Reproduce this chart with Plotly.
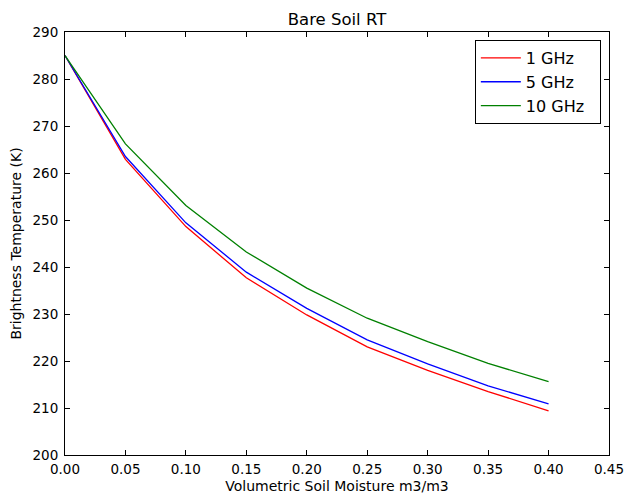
import plotly.graph_objects as go

moisture = [0.0, 0.05, 0.10, 0.15, 0.20, 0.25, 0.30, 0.35, 0.40]
tb_1ghz = [285.0, 262.9, 248.6, 237.7, 229.8, 223.0, 218.0, 213.5, 209.4]
tb_5ghz = [285.0, 263.5, 249.4, 238.9, 231.2, 224.5, 219.4, 214.7, 210.9]
tb_10ghz = [285.0, 266.2, 253.1, 243.2, 235.5, 229.1, 224.1, 219.5, 215.6]
series_names = ["1 GHz", "5 GHz", "10 GHz"]
series_colors = ["#ff0000", "#0000ff", "#008000"]
x_ticks = [0.0, 0.05, 0.10, 0.15, 0.20, 0.25, 0.30, 0.35, 0.40, 0.45]
y_ticks = [200, 210, 220, 230, 240, 250, 260, 270, 280, 290]

font = "DejaVu Sans"
W, H = 624, 496
fig = go.Figure()
for name, ys, c in zip(series_names, [tb_1ghz, tb_5ghz, tb_10ghz], series_colors):
    fig.add_trace(go.Scatter(x=moisture, y=ys, mode="lines", name=name + "  ",
                             line=dict(color=c, width=1.3)))

axis_common = dict(showgrid=False, zeroline=False, showline=True, linecolor="black",
                   linewidth=1, mirror="ticks", ticks="inside", ticklen=5,
                   tickcolor="black", automargin=False,
                   tickfont=dict(family=font, size=13.5, color="black"))
fig.update_xaxes(range=[0, 0.45], tickvals=x_ticks,
                 ticktext=[f"{v:.2f}" for v in x_ticks],
                 ticklabelstandoff=2, ticklabeloverflow="allow",
                 title=dict(text="Volumetric Soil Moisture m3/m3",
                            font=dict(family=font, size=14, color="black"), standoff=4),
                 **axis_common)
fig.update_yaxes(range=[200, 290], tickvals=y_ticks,
                 ticklabelstandoff=3,
                 title=dict(text="Brightness Temperature (K)",
                            font=dict(family=font, size=14, color="black"), standoff=7),
                 **axis_common)
fig.update_layout(
    width=W, height=H,
    margin=dict(l=65, r=15, t=32, b=41),
    paper_bgcolor="white", plot_bgcolor="white",
    title=dict(text="Bare Soil RT", x=0.5, xref="paper", xanchor="center",
               yref="container", y=1 - 19.5 / H, yanchor="middle",
               font=dict(family=font, size=16.5, color="black")),
    legend=dict(x=0.985, y=0.981, xanchor="right", yanchor="top",
                bordercolor="black", borderwidth=1, bgcolor="white",
                font=dict(family=font, size=16, color="black"),
                itemwidth=40, tracegroupgap=0),
    showlegend=True,
)
fig.write_html("out.html", config={"displayModeBar": False},
               post_script="document.body.style.margin='0';document.body.style.overflow='hidden';")
